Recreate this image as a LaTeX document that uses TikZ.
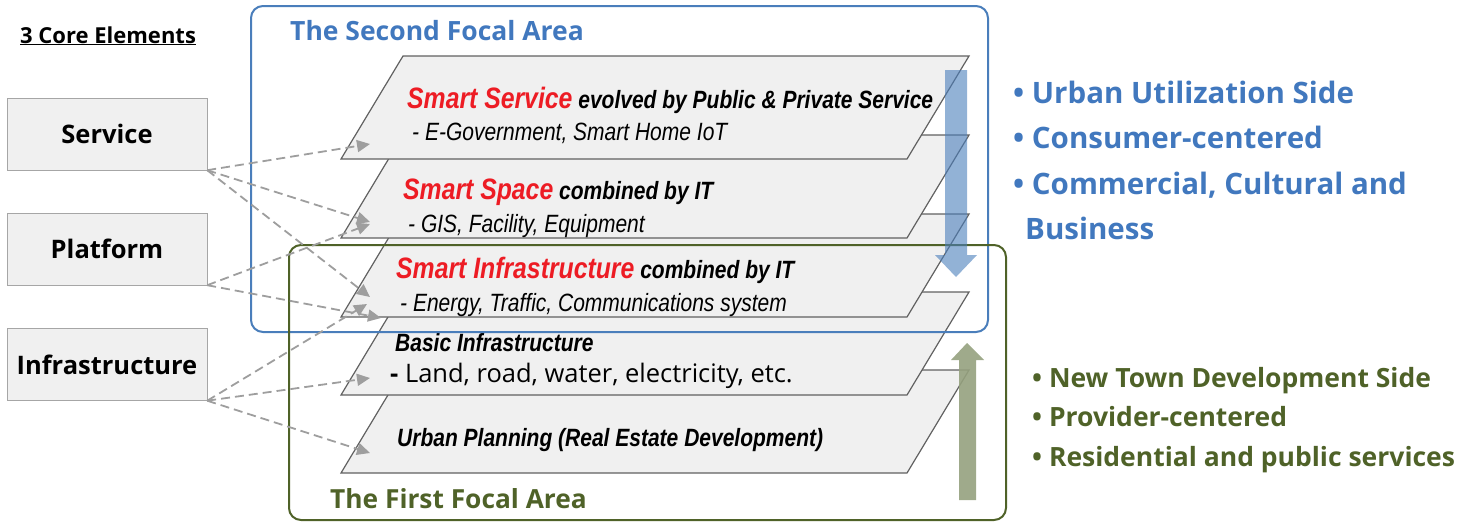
\documentclass[tikz,border=0pt]{standalone}
\usepackage{fontspec}
\setmainfont{Open Sans}
\newfontfamily\narrowfont[FakeStretch=0.84]{Liberation Sans}
\usetikzlibrary{arrows.meta}
\definecolor{areablue}{HTML}{4A7EBB}
\definecolor{textblue}{HTML}{4178BE}
\definecolor{areagreen}{HTML}{4F6228}
\definecolor{smartred}{HTML}{ED1C24}
\definecolor{layerfill}{HTML}{F0F0F0}
\colorlet{layerline}{black!62}
\colorlet{linkgray}{black!38}

\begin{document}
\begin{tikzpicture}[x=1pt,y=-1pt]
\tikzset{
  elembox/.style ={draw=black!35, fill=layerfill, minimum width=200pt, minimum height=72pt,
    font=\fontsize{25.5}{29}\selectfont\bfseries},
  layer/.style ={draw=layerline, fill=layerfill, line width=1.2pt, line join=miter},
  layertxt/.style ={anchor=base west, inner sep=0, font=\narrowfont\bfseries\itshape\fontsize{25}{29}\selectfont},
  subtxt/.style ={anchor=base west, inner sep=0, font=\narrowfont\itshape\fontsize{25}{29}\selectfont},
  note/.style ={anchor=base west, inner sep=0, font=\fontsize{29.5}{34}\selectfont\bfseries, text=textblue},
  devnote/.style ={anchor=base west, inner sep=0, font=\fontsize{26.5}{31}\selectfont\bfseries, text=areagreen},
  link/.style ={draw=linkgray, dashed, dash pattern=on 9pt off 5pt, line width=1.8pt,
    -{Triangle[length=13pt,width=12pt]}},
  focal/.style ={rounded corners=12pt, line width=2pt}
}
\useasboundingbox (0,0) rectangle (1458,522);

% stack of layers, lowest first
\foreach \yb in {473,395,317,238,159}
  \draw[layer] (341,\yb) -- (403,\yb-103) -- (969,\yb-103) -- (907,\yb) -- cycle;

% layer texts
\node[layertxt] (l1a) at (407,108) {{\color{smartred}\fontsize{29.5}{34}\selectfont Smart Service}
  evolved by Public \& Private Service};
\node[subtxt] (l1b) at (412,140) {- E-Government, Smart Home IoT};
\node[layertxt] (l2a) at (403,199) {{\color{smartred}\fontsize{29.5}{34}\selectfont Smart Space}
  combined by IT};
\node[subtxt] (l2b) at (408,232) {- GIS, Facility, Equipment};
\node[layertxt] (l3a) at (396,278) {{\color{smartred}\fontsize{29.5}{34}\selectfont Smart Infrastructure}
  combined by IT};
\node[subtxt] (l3b) at (400,311) {- Energy, Traffic, Communications system};
\node[layertxt] (l4a) at (395,351) {Basic Infrastructure};
\node[anchor=base west, inner sep=0, font=\fontsize{25.5}{29}\selectfont] (l4b) at (390,382) {\textbf{-} Land, road, water, electricity, etc.};
\node[layertxt] (l5a) at (397,446) {Urban Planning (Real Estate Development)};

% focal areas
\draw[focal, areablue] (251,6) rectangle (988,332);
\draw[focal, areagreen] (289,245) rectangle (1006,520);
\node[anchor=base west, inner sep=0, text=textblue, font=\fontsize{26.5}{30}\selectfont\bfseries] (second) at (290,40) {The Second Focal Area};
\node[anchor=base west, inner sep=0, text=areagreen, font=\fontsize{26.3}{30}\selectfont\bfseries] (first) at (330,508) {The First Focal Area};

% direction arrows
\fill[areablue, opacity=0.6] (945,70) -- (967,70) -- (967,255) -- (977,255) -- (956,277)
  -- (935,255) -- (945,255) -- cycle;
\fill[areagreen!60, opacity=0.9] (959,500) -- (976,500) -- (976,360) -- (984,360) -- (967,343)
  -- (951,360) -- (959,360) -- cycle;

% side notes
\node[note] (util1) at (1013,103) {• Urban Utilization Side};
\node[note] (util2) at (1013,148.5) {• Consumer-centered};
\node[note] (util3) at (1013,194) {• Commercial, Cultural and};
\node[note] (util4) at (1025,239.5) {Business};
\node[devnote] (dev1) at (1032,387) {• New Town Development Side};
\node[devnote] (dev2) at (1032,426.5) {• Provider-centered};
\node[devnote] (dev3) at (1032,466) {• Residential and public services};

% core elements
\node[anchor=base west, inner sep=0, font=\fontsize{22}{26}\selectfont\bfseries] (core) at (20,43) {\underline{3 Core Elements}};
\node[elembox] (svc) at (107,134) {Service};
\node[elembox] (plat) at (107,249) {Platform};
\node[elembox] (infra) at (107,364.5) {Infrastructure};

\coordinate (svcTipA) at (370,144);
\coordinate (svcTipB) at (370,222);
\coordinate (svcTipC) at (370,297);
\coordinate (platTipA) at (370,224);
\coordinate (platTipB) at (381,318);
\coordinate (infTipA) at (367,304);
\coordinate (infTipB) at (370,378);
\coordinate (infTipC) at (370,453);

\foreach \t in {svcTipA,svcTipB,svcTipC}
  \draw[link] (svc.south east) -- (\t);
\foreach \t in {platTipA,platTipB}
  \draw[link] (plat.south east) -- (\t);
\foreach \t in {infTipA,infTipB,infTipC}
  \draw[link] (infra.south east) -- (\t);
\end{tikzpicture}
\end{document}
